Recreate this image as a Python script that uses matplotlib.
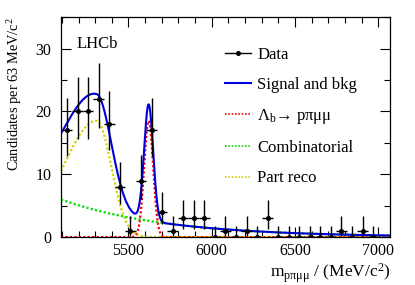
import numpy as np
import matplotlib
matplotlib.use("Agg")
import matplotlib.pyplot as plt
from matplotlib.lines import Line2D
from matplotlib.ticker import MultipleLocator

plt.rcParams['font.family'] = ['Liberation Serif', 'DejaVu Serif']
plt.rcParams['mathtext.fontset'] = 'custom'
plt.rcParams['mathtext.rm'] = 'Liberation Serif'
plt.rcParams['mathtext.it'] = 'Liberation Serif:italic'

# histogram: 30 bins of 63 MeV between 5100 and 7000
edges = np.linspace(5100, 7000, 31)
counts = [17, 20, 20, 22, 18, 8, 1, 9, 17, 4,
          1, 3, 3, 3, 0, 1, 0, 1, 0, 3,
          0, 0, 0, 0, 0, 0, 1, 0, 1, 0]

# Poisson (Garwood) 68% intervals: n -> (low, high)
garwood = {0: (0.0, 1.841), 1: (0.827, 2.300), 3: (1.632, 2.918),
           4: (1.914, 3.162), 8: (2.768, 3.945), 9: (2.943, 4.110),
           17: (4.082, 5.203), 18: (4.202, 5.321), 20: (4.434, 5.546),
           22: (4.655, 5.761)}

# fit model parameters
sig_mean, sig_width, sig_peak = 5621.0, 27.0, 18.5
comb_norm, comb_slope, comb_ref = 6.0, 0.0016, 5095.0
pr_mean, pr_left, pr_right, pr_peak = 5309.0, 201.0, 88.0, 18.5

centers = 0.5 * (edges[1:] + edges[:-1])
halfw = 0.5 * (edges[1] - edges[0])
counts = np.array(counts)
err_lo = np.array([garwood[c][0] for c in counts])
err_hi = np.array([garwood[c][1] for c in counts])

m = np.linspace(5095, 7070, 2000)
signal = sig_peak * np.exp(-0.5 * ((m - sig_mean) / sig_width) ** 2)
comb = comb_norm * np.exp(-comb_slope * (m - comb_ref))
width = np.where(m < pr_mean, pr_left, pr_right)
partreco = pr_peak * np.exp(-0.5 * ((m - pr_mean) / width) ** 2)
total = signal + comb + partreco

fig = plt.figure(figsize=(4.15, 2.85), dpi=100)
ax = fig.add_axes([0.147, 0.168, 0.793, 0.772])

dot = (0, (1, 1))
ax.plot(m, signal, color='#ff0000', lw=1.6, ls=dot)
ax.plot(m, partreco, color='#d2d200', lw=1.6, ls=dot)
ax.plot(m, comb, color='#00dd00', lw=1.6, ls=dot)
ax.plot(m, total, color='#0000dd', lw=1.5)
ax.errorbar(centers, counts, yerr=[err_lo, err_hi], xerr=halfw,
            fmt='o', ms=2.6, color='black', ecolor='black', elinewidth=1.0,
            capsize=0, zorder=5)

ax.set_xlim(5095, 7070)
ax.set_ylim(0, 35)
ax.xaxis.set_major_locator(MultipleLocator(500))
ax.xaxis.set_minor_locator(MultipleLocator(100))
ax.yaxis.set_major_locator(MultipleLocator(10))
ax.yaxis.set_minor_locator(MultipleLocator(5))
ax.tick_params(which='both', direction='in', top=True, right=True,
               labelsize=11.5, width=0.8)
ax.tick_params(which='major', length=7)
ax.tick_params(which='minor', length=4)
ax.tick_params(axis='x', pad=4)
ax.tick_params(axis='y', pad=7)
for s in ax.spines.values():
    s.set_linewidth(0.9)

ax.set_xlabel(r'm$_{\mathrm{pπμμ}}$ / (MeV/c$^{2}$)', fontsize=12.5,
              loc='right', labelpad=2)
ax.set_ylabel(r'Candidates per 63 MeV/c$^{2}$', fontsize=10.4, loc='top')
ax.yaxis.set_label_coords(-0.112, 1.0)

ax.text(0.047, 0.877, 'LHCb', transform=ax.transAxes, fontsize=12,
        va='center', ha='left')

handles = [
    Line2D([], [], color='black', lw=1.0, marker='o', ms=2.6),
    Line2D([], [], color='#0000dd', lw=1.5),
    Line2D([], [], color='#ff0000', lw=1.2, ls=(0, (1, 1))),
    Line2D([], [], color='#00dd00', lw=1.2, ls=(0, (1, 1))),
    Line2D([], [], color='#d2d200', lw=1.2, ls=(0, (1, 1))),
]
labels = ['Data', 'Signal and bkg', 'Λ$_{\\mathrm{b}}$→ pπμμ',
          'Combinatorial', 'Part reco']
ax.legend(handles, labels, loc='upper left', bbox_to_anchor=(0.497, 0.865),
          frameon=False, fontsize=12, borderpad=0, handlelength=1.6,
          handletextpad=0.35, labelspacing=0.85, borderaxespad=0)

fig.savefig('out.png', dpi=100)
